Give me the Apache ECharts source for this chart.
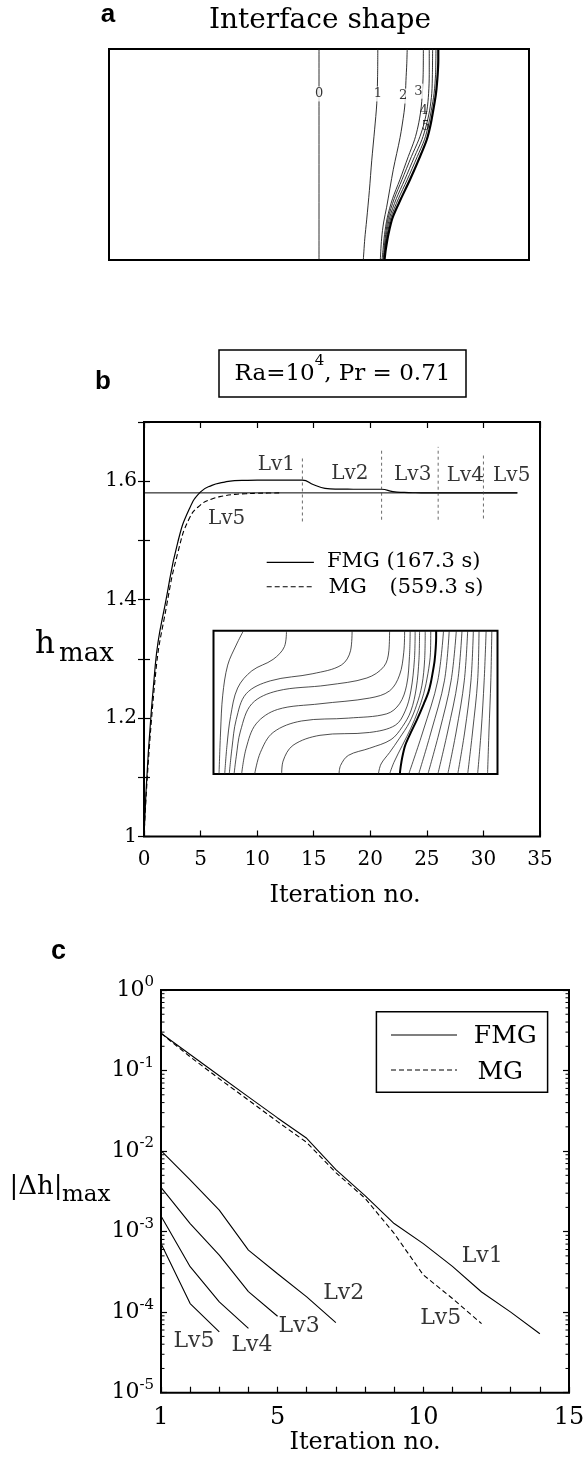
<!DOCTYPE html>
<html>
<head>
<meta charset="utf-8">
<script src="https://cdn.jsdelivr.net/npm/echarts@6/dist/echarts.min.js"></script>
<style>
  html, body { margin: 0; padding: 0; background: #fff; }
  #chart { width: 584px; height: 1463px; }
</style>
</head>
<body>
<div id="chart"></div>
<script>
// ---------- (a) interface shapes: x across the cavity [0,2], y up the cavity [0,1]
const interface0 = [[1.0,0],[1.0,1]];
const interface1 = [[1.211,0],[1.218,0.1],[1.227,0.19],[1.24,0.33],[1.251,0.47],[1.265,0.62],[1.275,0.74],[1.279,0.87],[1.28,1]];
const interface2 = [[1.292,0],[1.298,0.1],[1.308,0.18],[1.322,0.25],[1.354,0.43],[1.386,0.58],[1.405,0.7],[1.41,0.75],[1.414,0.85],[1.418,0.93],[1.42,1]];
const interface3 = [[1.300,0],[1.305,0.05],[1.312,0.12],[1.325,0.2],[1.35,0.29],[1.385,0.38],[1.425,0.49],[1.455,0.57],[1.472,0.635],[1.485,0.71],[1.492,0.79],[1.496,0.88],[1.497,1]];
const interface4 = [[1.305,0],[1.31,0.05],[1.317,0.12],[1.33,0.2],[1.358,0.29],[1.395,0.38],[1.44,0.49],[1.475,0.57],[1.497,0.635],[1.514,0.71],[1.522,0.79],[1.525,0.88],[1.525,1]];
const interface5 = [[1.308,0],[1.313,0.05],[1.321,0.12],[1.336,0.2],[1.368,0.29],[1.408,0.38],[1.455,0.49],[1.49,0.57],[1.51,0.635],[1.527,0.71],[1.537,0.79],[1.54,0.88],[1.541,1]];
const interface6 = [[1.31,0],[1.315,0.05],[1.325,0.12],[1.342,0.2],[1.378,0.29],[1.42,0.38],[1.468,0.49],[1.502,0.57],[1.52,0.635],[1.535,0.71],[1.548,0.79],[1.555,0.88],[1.557,1]];
const interfaceFinal = [[1.312,0],[1.318,0.05],[1.33,0.12],[1.35,0.2],[1.39,0.29],[1.433,0.38],[1.481,0.49],[1.513,0.57],[1.53,0.635],[1.544,0.71],[1.557,0.79],[1.565,0.88],[1.568,0.95],[1.568,1]];
const interfaceStages = ['0','1','2','3','4','5'];
const stageLabelAt = [[1.001,0.787],[1.28,0.787],[1.401,0.777],[1.473,0.80],[1.499,0.71],[1.508,0.632]];

// ---------- (b) h_max history
const iterFMG = [0,1,2,3,4,5,6,7,8,9,10,11,12,13,14,15,16,17,18,19,20,21,22,23,24,25,26,27,28,29,30,31,32,33];
const hmaxFMG = [1.000,1.290,1.405,1.498,1.553,1.582,1.593,1.598,1.601,1.6015,1.6017,1.6017,1.6017,1.6017,1.6017,
                 1.594,1.588,1.5866,1.5865,1.5864,1.5864,1.5864,1.5825,1.581,1.5805,1.5804,1.5803,1.5803,1.5803,
                 1.5803,1.5803,1.5803,1.5803,1.5803];
const iterMG = [0,1,2,3,4,5,6,7,8,9,10,11,12];
const hmaxMG = [1.000,1.27,1.39,1.48,1.537,1.560,1.570,1.575,1.5777,1.5789,1.5796,1.580,1.5803];
const hConverged = 1.5803;
const convergedSpan = [0, 33];
const levelSwitchIter = [14, 21, 26, 30];
const levelMarkTop = [1.642, 1.655, 1.658, 1.644];
const levelMarkBottom = [1.532, 1.535, 1.535, 1.537];
const levelNamesB = ['Lv1','Lv2','Lv3','Lv4','Lv5','Lv5'];
const levelNamesBAt = [[11.7,1.6284],[18.2,1.6118],[23.75,1.6101],[28.4,1.6084],[32.5,1.6084],[7.3,1.5359]];
const hTickLabels = ['1','1.2','1.4','1.6'];

// isotherms of the converged state (inset), same cavity coordinates as (a)
const liquidIsotherms = [
  [[0.211,1],[0.16,0.9],[0.10,0.76],[0.065,0.55],[0.05,0.3],[0.039,0]],
  [[0.514,1],[0.50,0.89],[0.42,0.8],[0.27,0.72],[0.17,0.6],[0.12,0.4],[0.095,0.2],[0.079,0]],
  [[0.976,1],[0.965,0.86],[0.90,0.76],[0.70,0.70],[0.40,0.65],[0.23,0.56],[0.16,0.38],[0.13,0.18],[0.111,0]],
  [[1.240,1],[1.235,0.86],[1.20,0.75],[1.08,0.67],[0.80,0.62],[0.45,0.58],[0.27,0.49],[0.19,0.3],[0.16,0.12],[0.145,0]],
  [[1.346,1],[1.34,0.85],[1.31,0.69],[1.24,0.58],[1.10,0.53],[0.75,0.49],[0.45,0.45],[0.30,0.35],[0.23,0.18],[0.198,0]],
  [[1.385,1],[1.38,0.82],[1.36,0.62],[1.31,0.49],[1.22,0.42],[0.95,0.39],[0.62,0.37],[0.42,0.29],[0.33,0.15],[0.29,0]],
  [[1.420,1],[1.415,0.8],[1.39,0.58],[1.35,0.44],[1.28,0.34],[1.10,0.29],[0.75,0.27],[0.56,0.2],[0.49,0.09],[0.480,0]],
  [[1.451,1],[1.447,0.8],[1.428,0.6],[1.39,0.44],[1.33,0.33],[1.25,0.24],[1.10,0.18],[0.95,0.13],[0.895,0.06],[0.884,0]],
  [[1.491,1],[1.487,0.8],[1.468,0.62],[1.43,0.48],[1.38,0.36],[1.31,0.25],[1.24,0.15],[1.18,0.07],[1.161,0]],
  [[1.530,1],[1.528,0.85],[1.51,0.7],[1.48,0.56],[1.44,0.44],[1.39,0.32],[1.33,0.2],[1.27,0.08],[1.24,0]]
];
const solidIsotherms = [
  [[1.375,0],[1.476,0.3],[1.579,0.65],[1.62,1]],
  [[1.445,0],[1.534,0.3],[1.626,0.65],[1.66,1]],
  [[1.51,0],[1.592,0.3],[1.673,0.65],[1.71,1]],
  [[1.58,0],[1.65,0.3],[1.72,0.65],[1.75,1]],
  [[1.65,0],[1.71,0.3],[1.766,0.65],[1.79,1]],
  [[1.72,0],[1.77,0.3],[1.813,0.65],[1.83,1]],
  [[1.79,0],[1.825,0.3],[1.86,0.65],[1.87,1]],
  [[1.86,0],[1.885,0.3],[1.906,0.65],[1.92,1]],
  [[1.93,0],[1.94,0.3],[1.953,0.65],[1.96,1]]
];

// ---------- (c) |Δh|max per iteration on each level
const iterDh = [1,2,3,4,5,6,7,8,9,10,11,12,13,14];
const dhFMGLv1 = [0.29,0.158,0.0863,0.0471,0.0258,0.0144,0.0059,0.0028,0.00126,0.00071,0.00037,0.000178,0.0001,0.000054];
const dhMGLv5 = [0.29,0.148,0.079,0.043,0.0232,0.0128,0.0054,0.0026,0.00095,0.00029,0.000148,0.000072];
const dhLv2 = [0.0101,0.0044,0.00185,0.00059,0.0003,0.000155,0.000074];
const dhLv3 = [0.00355,0.00126,0.00051,0.00018,0.000089];
const dhLv4 = [0.00156,0.000367,0.000134,0.000063];
const dhLv5 = [0.00071,0.000128,0.000057];
const levelNamesC = ['Lv1','Lv2','Lv5','Lv3','Lv4','Lv5'];
const levelNamesCAt = [[12.02,4.9e-4],[7.27,1.72e-4],[10.6,8.5e-5],[5.74,6.6e-5],[4.12,3.9e-5],[2.13,4.4e-5]];
const iterTickLabels = ['1','5','10','15'];
const dhExponents = [-5,-4,-3,-2,-1,0];

// minor log ticks (2..9 within each decade)
const minorTickValues = [];
for (let e = -5; e < 0; e++) for (let m = 2; m <= 9; m++) minorTickValues.push(m * Math.pow(10, e));

const SERIF = 'DejaVu Serif';
const SANS = 'Liberation Sans';
const INK = '#000';

const pairs = (xs, ys) => ys.map((y, i) => [xs[i], y]);

function curve(points, xi, yi, opts) {
  return Object.assign({
    type: 'line', xAxisIndex: xi, yAxisIndex: yi, data: points,
    showSymbol: false, symbol: 'none', silent: true, smooth: 0.3, z: 3,
    lineStyle: { color: '#222', width: 0.8 }
  }, opts || {});
}

function textMarks(names, at, xi, yi, fontSize, extra) {
  return {
    type: 'scatter', xAxisIndex: xi, yAxisIndex: yi, silent: true, z: 10,
    symbolSize: 1, itemStyle: { color: 'transparent' },
    data: names.map((n, i) => ({ name: n, value: at[i] })),
    label: Object.assign({
      show: true, position: 'inside', formatter: '{b}', color: INK,
      fontFamily: SERIF, fontSize: fontSize
    }, extra || {})
  };
}

const series = [];

// (a)
[interface0, interface1, interface2, interface3, interface4, interface5, interface6].forEach(c => {
  series.push(curve(c, 0, 0, { lineStyle: { color: '#1a1a1a', width: 0.9 } }));
});
series.push(curve(interfaceFinal, 0, 0, { lineStyle: { color: INK, width: 2.2 }, z: 4 }));
series.push(textMarks(interfaceStages.slice(0, 4), stageLabelAt.slice(0, 4), 0, 0, 13,
  { backgroundColor: '#fff', padding: [1, 1] }));
series.push(textMarks(interfaceStages.slice(4), stageLabelAt.slice(4), 0, 0, 13));

// (b)
series.push(curve([[convergedSpan[0], hConverged], [convergedSpan[1], hConverged]], 1, 1,
  { smooth: false, lineStyle: { color: INK, width: 1 } }));
series.push(curve(pairs(iterFMG, hmaxFMG), 1, 1,
  { smooth: 0.5, lineStyle: { color: INK, width: 1.2 } }));
series.push(curve(pairs(iterMG, hmaxMG), 1, 1,
  { smooth: 0.5, lineStyle: { color: INK, width: 1.1, type: [5, 3] } }));
levelSwitchIter.forEach((it, i) => {
  series.push(curve([[it, levelMarkBottom[i]], [it, levelMarkTop[i]]], 1, 1,
    { smooth: false, lineStyle: { color: '#444', width: 0.8, type: [3, 3] } }));
});
series.push(textMarks(levelNamesB, levelNamesBAt, 1, 1, 20));

// inset isotherms
liquidIsotherms.concat(solidIsotherms).forEach(c => {
  series.push(curve(c, 3, 3, { smooth: 0.35, lineStyle: { color: '#222', width: 0.8 } }));
});
series.push(curve(interfaceFinal, 3, 3, { lineStyle: { color: INK, width: 2 }, z: 4 }));

// (c)
const lineC = { smooth: false, lineStyle: { color: INK, width: 1.1 } };
series.push(curve(pairs(iterDh, dhFMGLv1), 4, 4, lineC));
series.push(curve(pairs(iterDh, dhMGLv5), 4, 4,
  { smooth: false, lineStyle: { color: INK, width: 1.1, type: [5, 3] } }));
[dhLv2, dhLv3, dhLv4, dhLv5].forEach(d => series.push(curve(pairs(iterDh, d), 4, 4, lineC)));
series.push(textMarks(levelNamesC, levelNamesCAt, 4, 4, 22));
series.push({
  type: 'custom', xAxisIndex: 4, yAxisIndex: 4, silent: true, z: 5,
  encode: { x: 0, y: 1 },
  data: minorTickValues.map(v => [1, v]),
  renderItem: (params, api) => {
    const v = api.value(1);
    const l = api.coord([1, v]);
    const r = api.coord([15, v]);
    const st = { stroke: INK, lineWidth: 1 };
    return { type: 'group', children: [
      { type: 'line', shape: { x1: l[0], y1: l[1], x2: l[0] + 3.5, y2: l[1] }, style: st },
      { type: 'line', shape: { x1: r[0] - 3.5, y1: r[1], x2: r[0], y2: r[1] }, style: st }
    ] };
  }
});

const tickStyle = { inside: true, length: 6, lineStyle: { color: INK, width: 1.2 } };
const noSplit = { show: false };
const hidden = { show: false };

const option = {
  animation: false,
  backgroundColor: '#fff',
  textStyle: { fontFamily: SERIF, color: INK },
  grid: [
    { left: 109, top: 49, width: 420, height: 211, show: true, borderColor: INK, borderWidth: 2,
      backgroundColor: 'transparent', outerBoundsMode: 'none', containLabel: false },
    { left: 144, top: 422, width: 396, height: 414.5, show: true, borderColor: INK, borderWidth: 2,
      backgroundColor: 'transparent', outerBoundsMode: 'none', containLabel: false },
    { left: 144, top: 422, width: 396, height: 414.5, show: false, outerBoundsMode: 'none', containLabel: false },
    { left: 213.5, top: 630.7, width: 284, height: 143.3, show: true, borderColor: INK, borderWidth: 2,
      backgroundColor: 'transparent', outerBoundsMode: 'none', containLabel: false },
    { left: 161, top: 990, width: 408, height: 402.7, show: true, borderColor: INK, borderWidth: 2,
      backgroundColor: 'transparent', outerBoundsMode: 'none', containLabel: false }
  ],
  xAxis: [
    { gridIndex: 0, type: 'value', min: 0, max: 2, show: false },
    { gridIndex: 1, type: 'value', min: 0, max: 35, interval: 5,
      axisLine: hidden, axisTick: tickStyle, splitLine: noSplit,
      axisLabel: { color: INK, fontFamily: SERIF, fontSize: 20, margin: 13 } },
    { gridIndex: 2, type: 'value', min: 0, max: 35, interval: 5, position: 'top',
      axisLine: hidden, axisTick: tickStyle, splitLine: noSplit, axisLabel: hidden },
    { gridIndex: 3, type: 'value', min: 0, max: 2, show: false },
    { gridIndex: 4, type: 'value', min: 1, max: 15, interval: 1,
      axisLine: hidden, axisTick: tickStyle, splitLine: noSplit,
      axisLabel: { color: INK, fontFamily: SERIF, fontSize: 24, margin: 13,
        formatter: v => (iterTickLabels.includes(String(v)) ? String(v) : '') } }
  ],
  yAxis: [
    { gridIndex: 0, type: 'value', min: 0, max: 1, show: false },
    { gridIndex: 1, type: 'value', min: 1, max: 1.7, interval: 0.1,
      axisLine: hidden, axisTick: tickStyle, splitLine: noSplit,
      axisLabel: { color: INK, fontFamily: SERIF, fontSize: 20, margin: 7,
        formatter: v => hTickLabels.find(s => Math.abs(parseFloat(s) - v) < 1e-6) || '' } },
    { gridIndex: 2, type: 'value', min: 1, max: 1.7, interval: 0.1, position: 'right',
      axisLine: hidden, axisTick: tickStyle, splitLine: noSplit, axisLabel: hidden },
    { gridIndex: 3, type: 'value', min: 0, max: 1, show: false },
    { gridIndex: 4, type: 'log', logBase: 10, min: 1e-5, max: 1, splitNumber: 5,
      axisLine: hidden, axisTick: tickStyle, splitLine: noSplit,
      axisLabel: { color: INK, margin: 7,
        formatter: v => {
          const e = Math.round(Math.log10(v));
          return dhExponents.includes(e) ? '{b|10}{s|' + e + '}' : '';
        },
        rich: {
          b: { fontFamily: SERIF, fontSize: 22, color: INK },
          s: { fontFamily: SERIF, fontSize: 15, color: INK, padding: [0, 0, 15, 0] }
        } } },
    { gridIndex: 4, type: 'log', logBase: 10, min: 1e-5, max: 1, splitNumber: 5, position: 'right',
      axisLine: hidden, axisTick: tickStyle, splitLine: noSplit, axisLabel: hidden }
  ],
  series: series,
  graphic: [
    // panel letters
    { type: 'text', silent: true, style: { text: 'a', x: 108, y: 15, fontFamily: SANS, fontWeight: 'bold', fontSize: 26,
      fill: INK, textAlign: 'center', textVerticalAlign: 'middle' } },
    { type: 'text', silent: true, style: { text: 'b', x: 103, y: 382, fontFamily: SANS, fontWeight: 'bold', fontSize: 26,
      fill: INK, textAlign: 'center', textVerticalAlign: 'middle' } },
    { type: 'text', silent: true, style: { text: 'c', x: 58.6, y: 952, fontFamily: SANS, fontWeight: 'bold', fontSize: 27,
      fill: INK, textAlign: 'center', textVerticalAlign: 'middle' } },
    // (a) title
    { type: 'text', silent: true, style: { text: 'Interface shape', x: 320, y: 20.5, fontFamily: SERIF, fontSize: 28,
      fill: INK, textAlign: 'center', textVerticalAlign: 'middle' } },
    // (b) parameter box
    { type: 'rect', silent: true, shape: { x: 219, y: 350, width: 247, height: 47 },
      style: { fill: 'none', stroke: INK, lineWidth: 1.5 } },
    { type: 'text', silent: true, style: { text: '{n|Ra=10}{s|4}{n|, Pr = 0.71}', x: 342.5, y: 374.3,
      fill: INK, textAlign: 'center', textVerticalAlign: 'middle',
      rich: { n: { fontFamily: SERIF, fontSize: 23, fill: INK },
              s: { fontFamily: SERIF, fontSize: 15, fill: INK, padding: [0, 0, 26, 0] } } } },
    // (b) y name
    { type: 'text', silent: true, style: { text: 'h', x: 35, y: 644.6, fontFamily: SERIF, fontSize: 31,
      fill: INK, textAlign: 'left', textVerticalAlign: 'middle' } },
    { type: 'text', silent: true, style: { text: 'max', x: 59, y: 654.3, fontFamily: SERIF, fontSize: 26,
      fill: INK, textAlign: 'left', textVerticalAlign: 'middle' } },
    // (b) legend
    { type: 'line', silent: true, shape: { x1: 266.7, y1: 562.3, x2: 313.9, y2: 562.3 },
      style: { stroke: INK, lineWidth: 1.2 } },
    { type: 'text', silent: true, style: { text: 'FMG (167.3 s)', x: 327, y: 562, fontFamily: SERIF, fontSize: 21,
      fill: INK, textAlign: 'left', textVerticalAlign: 'middle' } },
    { type: 'line', silent: true, shape: { x1: 266.7, y1: 586.7, x2: 313.9, y2: 586.7 },
      style: { stroke: INK, lineWidth: 1.1, lineDash: [5, 3] } },
    { type: 'text', silent: true, style: { text: 'MG', x: 328.5, y: 587.7, fontFamily: SERIF, fontSize: 21,
      fill: INK, textAlign: 'left', textVerticalAlign: 'middle' } },
    { type: 'text', silent: true, style: { text: '(559.3 s)', x: 389.5, y: 587.7, fontFamily: SERIF, fontSize: 21,
      fill: INK, textAlign: 'left', textVerticalAlign: 'middle' } },
    // (b) x name
    { type: 'text', silent: true, style: { text: 'Iteration no.', x: 345, y: 895.7, fontFamily: SERIF, fontSize: 24,
      fill: INK, textAlign: 'center', textVerticalAlign: 'middle' } },
    // (c) legend
    { type: 'rect', silent: true, shape: { x: 376.4, y: 1011.7, width: 171.2, height: 80.6 },
      style: { fill: '#fff', stroke: INK, lineWidth: 1.5 }, z: 20 },
    { type: 'line', silent: true, z: 21, shape: { x1: 391, y1: 1035, x2: 457, y2: 1035 },
      style: { stroke: INK, lineWidth: 1.1 } },
    { type: 'text', silent: true, z: 21, style: { text: 'FMG', x: 473.8, y: 1036, fontFamily: SERIF, fontSize: 25,
      fill: INK, textAlign: 'left', textVerticalAlign: 'middle' } },
    { type: 'line', silent: true, z: 21, shape: { x1: 391, y1: 1070, x2: 457, y2: 1070 },
      style: { stroke: INK, lineWidth: 1.1, lineDash: [5, 3] } },
    { type: 'text', silent: true, z: 21, style: { text: 'MG', x: 477.5, y: 1072, fontFamily: SERIF, fontSize: 25,
      fill: INK, textAlign: 'left', textVerticalAlign: 'middle' } },
    // (c) y name
    { type: 'text', silent: true, style: { text: '|Δh|', x: 9.4, y: 1187.7, fontFamily: SERIF, fontSize: 26,
      fill: INK, textAlign: 'left', textVerticalAlign: 'middle' } },
    { type: 'text', silent: true, style: { text: 'max', x: 62, y: 1195.3, fontFamily: SERIF, fontSize: 23,
      fill: INK, textAlign: 'left', textVerticalAlign: 'middle' } },
    // (c) x name
    { type: 'text', silent: true, style: { text: 'Iteration no.', x: 365, y: 1443, fontFamily: SERIF, fontSize: 24,
      fill: INK, textAlign: 'center', textVerticalAlign: 'middle' } }
  ]
};

const chart = echarts.init(document.getElementById('chart'), null, { renderer: 'canvas' });
chart.setOption(option);
</script>
</body>
</html>
